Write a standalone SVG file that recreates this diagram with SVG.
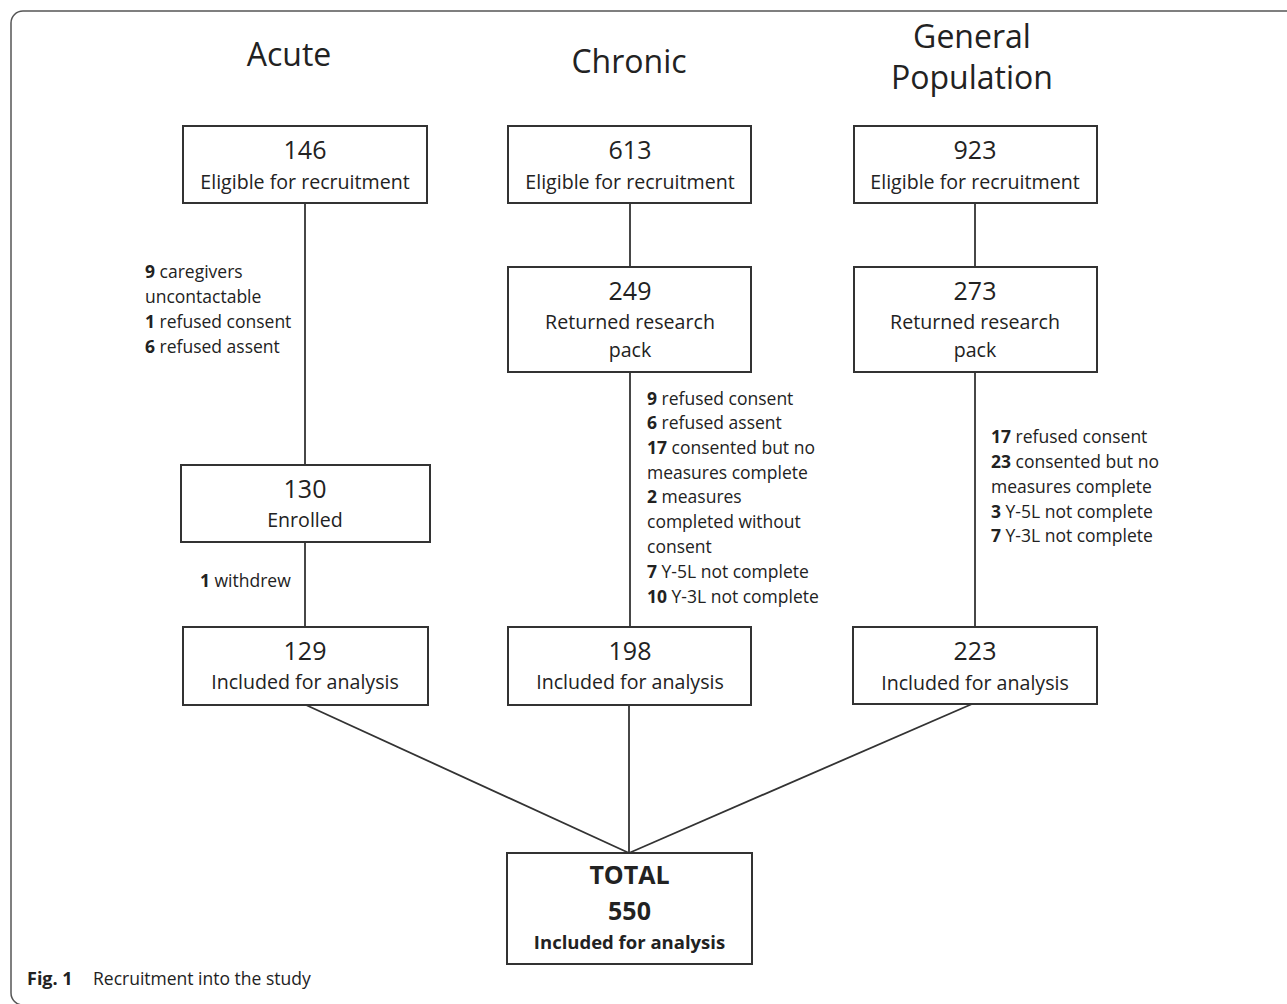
<svg xmlns="http://www.w3.org/2000/svg" width="1287" height="1004" viewBox="0 0 1287 1004">
<style>
  text { font-family: "Open Sans", "Noto Sans", "Liberation Sans", sans-serif; fill: #222; }
  .title { font-size: 32px; text-anchor: middle; }
  .num { font-size: 25px; text-anchor: middle; }
  .lbl { font-size: 19.6px; text-anchor: middle; }
  .ann { font-size: 17.5px; }
  .ann tspan.b { font-weight: bold; }
  .box { fill: #fff; stroke: #333; stroke-width: 2; }
  .conn line { stroke: #333; stroke-width: 1.8; }
  .tot { font-weight: bold; text-anchor: middle; }
</style>
<rect width="1287" height="1004" fill="#fff"/>
<rect x="11" y="11" width="1300" height="994" rx="12" ry="12" fill="none" stroke="#555" stroke-width="1.5"/>

<g id="titles">
  <text class="title" x="289" y="66">Acute</text>
  <text class="title" x="629" y="73">Chronic</text>
  <text class="title" x="972" y="48" font-size="30">General</text>
  <text class="title" x="972" y="89" font-size="30">Population</text>
</g>

<g class="conn" id="connectors">
  <line x1="305" y1="203" x2="305" y2="465"/>
  <line x1="305" y1="542" x2="305" y2="627"/>
  <line x1="630" y1="203" x2="630" y2="267"/>
  <line x1="630" y1="372" x2="630" y2="627"/>
  <line x1="975" y1="203" x2="975" y2="267"/>
  <line x1="975" y1="372" x2="975" y2="627"/>
  <line x1="306" y1="705" x2="629" y2="853"/>
  <line x1="629" y1="705" x2="629" y2="853"/>
  <line x1="972" y1="704" x2="629" y2="853"/>
</g>

<g id="acute-eligible">
  <rect class="box" x="183" y="126" width="244" height="77"/>
  <text class="num" x="305" y="159">146</text>
  <text class="lbl" x="305" y="189">Eligible for recruitment</text>
</g>
<g id="acute-enrolled">
  <rect class="box" x="181" y="465" width="249" height="77"/>
  <text class="num" x="305" y="498">130</text>
  <text class="lbl" x="305" y="527">Enrolled</text>
</g>
<g id="acute-included">
  <rect class="box" x="183" y="627" width="245" height="78"/>
  <text class="num" x="305" y="660">129</text>
  <text class="lbl" x="305" y="689">Included for analysis</text>
</g>

<g id="chronic-eligible">
  <rect class="box" x="508" y="126" width="243" height="77"/>
  <text class="num" x="630" y="159">613</text>
  <text class="lbl" x="630" y="189">Eligible for recruitment</text>
</g>
<g id="chronic-returned">
  <rect class="box" x="508" y="267" width="243" height="105"/>
  <text class="num" x="630" y="300">249</text>
  <text class="lbl" x="630" y="329">Returned research</text>
  <text class="lbl" x="630" y="357">pack</text>
</g>
<g id="chronic-included">
  <rect class="box" x="508" y="627" width="243" height="78"/>
  <text class="num" x="630" y="660">198</text>
  <text class="lbl" x="630" y="689">Included for analysis</text>
</g>

<g id="gp-eligible">
  <rect class="box" x="854" y="126" width="243" height="77"/>
  <text class="num" x="975" y="159">923</text>
  <text class="lbl" x="975" y="189">Eligible for recruitment</text>
</g>
<g id="gp-returned">
  <rect class="box" x="854" y="267" width="243" height="105"/>
  <text class="num" x="975" y="300">273</text>
  <text class="lbl" x="975" y="329">Returned research</text>
  <text class="lbl" x="975" y="357">pack</text>
</g>
<g id="gp-included">
  <rect class="box" x="853" y="627" width="244" height="77"/>
  <text class="num" x="975" y="660">223</text>
  <text class="lbl" x="975" y="690">Included for analysis</text>
</g>

<g id="total">
  <rect class="box" x="507" y="853" width="245" height="111"/>
  <text class="tot" x="629.5" y="884" font-size="25">TOTAL</text>
  <text class="tot" x="629.5" y="920" font-size="25">550</text>
  <text class="tot" x="629.5" y="949" font-size="18.5">Included for analysis</text>
</g>

<g id="annotations">
  <text class="ann" x="145" y="278"><tspan class="b">9</tspan> caregivers</text>
  <text class="ann" x="145" y="303">uncontactable</text>
  <text class="ann" x="145" y="328"><tspan class="b">1</tspan> refused consent</text>
  <text class="ann" x="145" y="353"><tspan class="b">6</tspan> refused assent</text>
  <text class="ann" x="200" y="587"><tspan class="b">1</tspan> withdrew</text>

  <text class="ann" x="647" y="405"><tspan class="b">9</tspan> refused consent</text>
  <text class="ann" x="647" y="429"><tspan class="b">6</tspan> refused assent</text>
  <text class="ann" x="647" y="454"><tspan class="b">17</tspan> consented but no</text>
  <text class="ann" x="647" y="479">measures complete</text>
  <text class="ann" x="647" y="503"><tspan class="b">2</tspan> measures</text>
  <text class="ann" x="647" y="528">completed without</text>
  <text class="ann" x="647" y="553">consent</text>
  <text class="ann" x="647" y="578"><tspan class="b">7</tspan> Y-5L not complete</text>
  <text class="ann" x="647" y="603"><tspan class="b">10</tspan> Y-3L not complete</text>

  <text class="ann" x="991" y="443"><tspan class="b">17</tspan> refused consent</text>
  <text class="ann" x="991" y="468"><tspan class="b">23</tspan> consented but no</text>
  <text class="ann" x="991" y="493">measures complete</text>
  <text class="ann" x="991" y="518"><tspan class="b">3</tspan> Y-5L not complete</text>
  <text class="ann" x="991" y="542"><tspan class="b">7</tspan> Y-3L not complete</text>
</g>

<g id="caption">
  <text x="27" y="985" font-size="18" font-weight="bold" fill="#222">Fig. 1</text>
  <text x="93" y="985" font-size="17.5" fill="#333">Recruitment into the study</text>
</g>
</svg>
